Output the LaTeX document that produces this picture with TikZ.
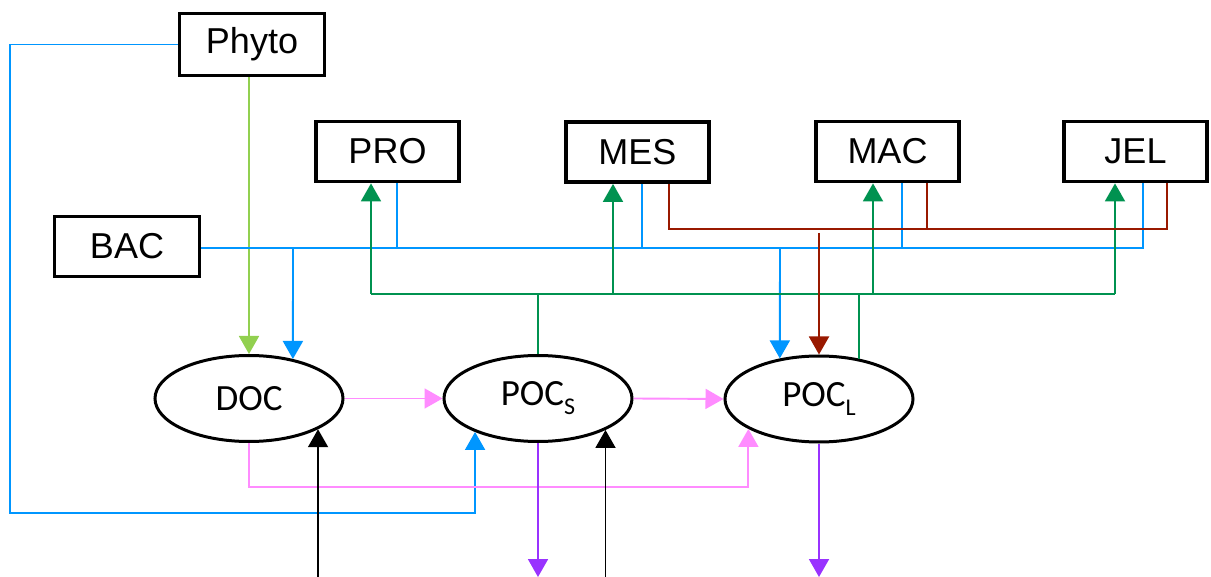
\documentclass[tikz,border=0pt]{standalone}
\usepackage{fontspec}
\setmainfont{Liberation Sans}
\newfontfamily\calfont{Carlito}
\usetikzlibrary{arrows.meta,shapes.geometric}
\definecolor{cBlue}{RGB}{0,150,255}
\definecolor{cLime}{RGB}{146,208,80}
\definecolor{cGreen}{RGB}{0,146,80}
\definecolor{cRed}{RGB}{153,25,0}
\definecolor{cPink}{RGB}{255,140,255}
\definecolor{cPurple}{RGB}{153,51,255}
\tikzset{
  box/.style={draw, line width=1.9pt, minimum width=71.5pt, minimum height=30pt,
    inner sep=0pt, font=\fontsize{18}{20}\selectfont},
  pool/.style={draw, ellipse, line width=1.5pt, minimum width=94pt, minimum height=43pt,
    inner sep=0pt, font=\calfont\fontsize{18.5}{20}\selectfont},
  flow/.style={line width=0.95pt},
  tip/.style={-{Triangle[width=10pt,length=9pt]}},
}
\newcommand{\lowidx}[1]{\raisebox{-0.24em}{\fontsize{12}{12}\selectfont #1}}
\begin{document}
\begin{tikzpicture}[x=0.5pt,y=-0.5pt]
\useasboundingbox (0,0) rectangle (1211,577);

% compartments
\node[box, minimum width=72.5pt, minimum height=31pt] (Phyto) at (252,44.5) {Phyto};
\node[box, minimum width=72.5pt] (BAC) at (127,246.5) {BAC};
\node[box] (PRO) at (387.5,151.5) {PRO};
\node[box] (MES) at (637.5,152) {MES};
\node[box] (MAC) at (887.5,151.5) {MAC};
\node[box] (JEL) at (1135.5,151.5) {JEL};

\node[pool] (DOC)  at (249,398.5) {DOC};
\node[pool] (POCs) at (538,398.5) {POC\lowidx{S}};
\node[pool] (POCl) at (819,399) {POC\lowidx{L}};

% bus rails and free ends
\coordinate (bot) at (0,577);
\coordinate (bBus) at (1143,248);
\coordinate (gW) at (371,294);
\coordinate (gE) at (1115,294);
\coordinate (rW) at (669,229);
\coordinate (rE) at (1167,229);
\coordinate (rDrop) at (819,233);
\coordinate (pL) at (10,513);
\coordinate (pk) at (249,487);

% phytoplankton
\draw[flow, cLime, tip] (Phyto.south -| DOC.north) -- (DOC.north);
\draw[flow, cBlue, tip] (Phyto.west) -| (pL) -| (POCs.208.25);

% bacteria / excretion bus (blue)
\draw[flow, cBlue] (BAC.east |- bBus) -- (bBus) -- (bBus |- JEL.south);
\draw[flow, cBlue] (397,248) -- (397,248 |- PRO.south);
\draw[flow, cBlue] (642,248) -- (642,248 |- MES.south);
\draw[flow, cBlue] (902,248) -- (902,248 |- MAC.south);
\draw[flow, cBlue, tip] (293,248) -- (DOC.42);
\draw[flow, cBlue, tip] (780,248) -- (POCl.134.2);

% grazing bus (green)
\draw[flow, cGreen] (POCs.north) -- (POCs.north |- gW);
\draw[flow, cGreen] (POCl.45.8) -- (POCl.45.8 |- gW);
\draw[flow, cGreen] (gW) -- (gE);
\draw[flow, cGreen, tip] (gW) -- (gW |- PRO.south);
\draw[flow, cGreen, tip] (613,294) -- (613,294 |- MES.south);
\draw[flow, cGreen, tip] (873,294) -- (873,294 |- MAC.south);
\draw[flow, cGreen, tip] (gE) -- (gE |- JEL.south);

% fecal / mortality bus (red)
\draw[flow, cRed] (rW |- MES.south) -- (rW) -- (rE) -- (rE |- JEL.south);
\draw[flow, cRed] (927,229) -- (927,229 |- MAC.south);
\draw[flow, cRed, tip] (rDrop) -- (POCl.north);

% aggregation (pink)
\draw[flow, cPink, tip] (DOC.east) -- (POCs.west);
\draw[flow, cPink, tip] (POCs.east) -- (POCl.west);
\draw[flow, cPink, tip] (DOC.south) -- (DOC.south |- pk) -| (POCl.203.6);

% external inputs (black)
\draw[flow, black, tip] (DOC.336.65 |- bot) -- (DOC.336.65);
\draw[flow, black, tip] (POCs.335 |- bot) -- (POCs.335);

% sinking export (purple)
\draw[flow, cPurple, tip] (POCs.south) -- (POCs.south |- bot);
\draw[flow, cPurple, tip] (POCl.south) -- (POCl.south |- bot);
\end{tikzpicture}
\end{document}
